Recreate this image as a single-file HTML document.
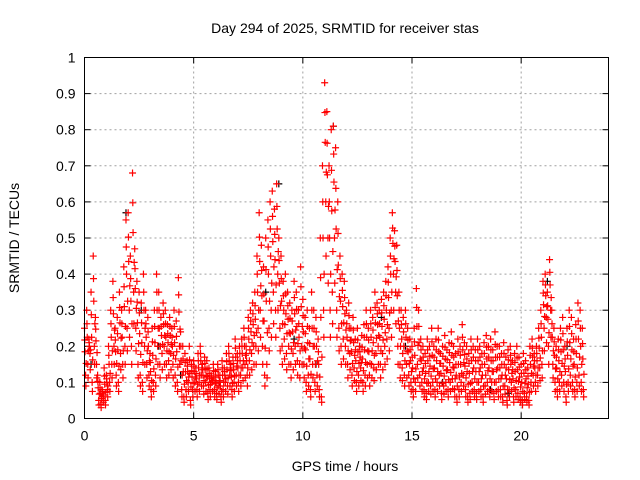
<!DOCTYPE html>
<html><head><meta charset="utf-8"><style>
html,body{margin:0;padding:0;background:#fff;}
svg{display:block;font-family:"Liberation Sans",sans-serif;}
</style></head><body>
<svg id="chart" width="640" height="480" viewBox="0 0 640 480" xmlns="http://www.w3.org/2000/svg">
<rect x="0" y="0" width="640" height="480" fill="#fff"/>
<g id="grid"></g>
<g id="ticks"></g>
<g id="black"></g>
<g id="red"></g>
<rect x="84.5" y="57.5" width="524" height="361" fill="none" stroke="#000" stroke-width="1"/>
<text x="345" y="33" font-size="14" text-anchor="middle">Day 294 of 2025, SRMTID for receiver stas</text>
<text x="345" y="471" font-size="14" text-anchor="middle">GPS time / hours</text>
<text transform="translate(19,238) rotate(-90)" font-size="14" text-anchor="middle">SRMTID / TECUs</text>
</svg>
<script>
const xTicks=[0,5,10,15,20];
const yTicks=[0,0.1,0.2,0.3,0.4,0.5,0.6,0.7,0.8,0.9,1];
const yTickLabels=["0","0.1","0.2","0.3","0.4","0.5","0.6","0.7","0.8","0.9","1"];
const tStart=0, tStep=0.1;
const redA=[0.25,0.3,0.22,0.35,0.45,0.28,0.12,0.1,0.08,0.14,
0.12,0.2,0.3,0.38,0.25,0.28,0.35,0.3,0.42,0.55,
0.57,0.45,0.68,0.47,0.38,0.35,0.32,0.4,0.3,0.28,
0.18,0.25,0.3,0.4,0.35,0.28,0.32,0.3,0.26,0.28,
0.25,0.3,0.27,0.39,0.24,0.2,0.18,0.16,0.2,0.15,
0.16,0.14,0.18,0.2,0.15,0.17,0.16,0.14,0.12,0.15,
0.13,0.15,0.12,0.16,0.14,0.18,0.2,0.15,0.17,0.22,
0.18,0.2,0.22,0.25,0.2,0.28,0.3,0.32,0.35,0.45,
0.57,0.48,0.42,0.5,0.55,0.6,0.63,0.58,0.65,0.5,
0.45,0.38,0.4,0.35,0.32,0.3,0.38,0.35,0.3,0.42,
0.33,0.28,0.3,0.25,0.35,0.3,0.28,0.22,0.5,0.7,
0.93,0.85,0.7,0.8,0.81,0.75,0.6,0.45,0.4,0.38,
0.3,0.32,0.25,0.28,0.22,0.25,0.2,0.23,0.26,0.3,
0.25,0.3,0.28,0.35,0.32,0.3,0.33,0.35,0.38,0.42,
0.5,0.57,0.52,0.48,0.35,0.3,0.28,0.3,0.25,0.22,
0.2,0.25,0.36,0.3,0.22,0.2,0.18,0.22,0.2,0.25,
0.2,0.22,0.25,0.18,0.2,0.23,0.19,0.21,0.24,0.2,
0.18,0.22,0.2,0.26,0.21,0.2,0.18,0.22,0.2,0.19,
0.22,0.2,0.18,0.21,0.23,0.2,0.22,0.19,0.24,0.2,
0.2,0.18,0.21,0.17,0.19,0.2,0.16,0.18,0.2,0.17,
0.15,0.18,0.16,0.14,0.2,0.22,0.18,0.2,0.25,0.3,
0.38,0.4,0.35,0.44,0.3,0.25,0.2,0.22,0.25,0.28,
0.2,0.25,0.3,0.28,0.22,0.26,0.32,0.3,0.25];
const redB=[0.12,0.15,0.18,0.1,0.2,0.15,0.05,0.04,0.06,0.05,
0.08,0.1,0.15,0.2,0.12,0.1,0.18,0.15,0.2,0.25,
0.3,0.2,0.35,0.25,0.15,0.12,0.1,0.2,0.15,0.12,
0.08,0.1,0.12,0.2,0.15,0.18,0.2,0.15,0.16,0.18,
0.15,0.12,0.1,0.2,0.08,0.06,0.08,0.1,0.05,0.08,
0.1,0.08,0.1,0.12,0.09,0.1,0.07,0.08,0.1,0.08,
0.07,0.09,0.06,0.08,0.1,0.09,0.12,0.08,0.1,0.12,
0.1,0.12,0.14,0.15,0.12,0.16,0.18,0.2,0.2,0.25,
0.3,0.2,0.12,0.15,0.25,0.3,0.35,0.3,0.4,0.25,
0.2,0.22,0.18,0.2,0.15,0.18,0.2,0.16,0.15,0.2,
0.15,0.1,0.12,0.08,0.15,0.1,0.12,0.08,0.06,0.3,
0.6,0.5,0.3,0.35,0.5,0.3,0.25,0.2,0.22,0.2,
0.15,0.18,0.12,0.14,0.1,0.12,0.14,0.1,0.12,0.15,
0.12,0.15,0.14,0.18,0.2,0.15,0.18,0.2,0.22,0.25,
0.3,0.4,0.35,0.2,0.15,0.14,0.12,0.15,0.12,0.1,
0.08,0.1,0.15,0.12,0.1,0.08,0.07,0.1,0.09,0.1,
0.08,0.1,0.12,0.07,0.09,0.1,0.08,0.1,0.11,0.08,
0.06,0.08,0.1,0.12,0.08,0.06,0.07,0.1,0.08,0.07,
0.1,0.08,0.06,0.09,0.1,0.08,0.1,0.07,0.1,0.08,
0.08,0.06,0.09,0.05,0.08,0.1,0.06,0.08,0.07,0.06,
0.05,0.07,0.06,0.05,0.1,0.12,0.1,0.12,0.14,0.15,
0.25,0.28,0.2,0.3,0.15,0.1,0.08,0.1,0.12,0.1,
0.06,0.1,0.12,0.1,0.08,0.1,0.12,0.1,0.08];
const blackT=[0.3,1.9,2.6,3.4,4.4,6.2,8.3,8.9,9.6,10.6,11.4,12.6,13.6,14.7,16.4,18.6,19.4,21.2,22.1];
const blackV=[0.15,0.57,0.3,0.2,0.12,0.1,0.35,0.65,0.22,0.15,0.81,0.2,0.28,0.2,0.1,0.08,0.07,0.38,0.2];

const X0=84.5,X1=608.5,Y0=418.5,Y1=57.5,XMAX=24;
const xs=t=>X0+(t/XMAX)*(X1-X0);
const ys=v=>Y0-(v/1)*(Y0-Y1);
const NS="http://www.w3.org/2000/svg";
function mk(tag,attrs,parent){const e=document.createElementNS(NS,tag);for(const k in attrs)e.setAttribute(k,attrs[k]);parent.appendChild(e);return e;}
const grid=document.getElementById('grid'),ticks=document.getElementById('ticks');
yTicks.forEach((v,i)=>{
  const y=ys(v);
  if(v>0&&v<1){const g=mk('line',{x1:X0,x2:X1,y1:y,y2:y,stroke:'#a0a0a0','stroke-dasharray':'2,3','stroke-width':1},grid);
  
  }
  mk('line',{x1:X0,x2:X0+6,y1:y,y2:y,stroke:'#000'},ticks);
  mk('line',{x1:X1,x2:X1-6,y1:y,y2:y,stroke:'#000'},ticks);
  const t=mk('text',{x:X0-9,y:y+5,'font-size':14,'text-anchor':'end'},ticks);
  
  
  t.textContent=yTickLabels[i];
});
xTicks.forEach(v=>{
  const x=xs(v);
  if(v>0){const g=mk('line',{x1:x,x2:x,y1:Y0,y2:Y1,stroke:'#a0a0a0','stroke-dasharray':'2,3','stroke-width':1},grid);
  
  }
  mk('line',{x1:x,x2:x,y1:Y0,y2:Y0-6,stroke:'#000'},ticks);
  mk('line',{x1:x,x2:x,y1:Y1,y2:Y1+6,stroke:'#000'},ticks);
  const t=mk('text',{x:x,y:Y0+22,'font-size':14,'text-anchor':'middle'},ticks);
  
  
  t.textContent=String(v);
});
function plus(parent,t,v,color,name){
  const x=xs(t),y=ys(v);
  const p=mk('path',{d:`M${x-3.5},${y}H${x+3.5}M${x},${y-3.5}V${y+3.5}`,stroke:color,'stroke-width':1.2,fill:'none'},parent);
  
  
}
const black=document.getElementById('black'),red=document.getElementById('red');
blackT.forEach((t,i)=>plus(black,t,blackV[i],'#000','black-point'));
redA.forEach((v,i)=>{
  const t=tStart+i*tStep;
  const b=redB[i];
  plus(red,t,v,'#ff0000','red-point');
  plus(red,t+0.05,b,'#ff0000','red-point');
  plus(red,t+0.025,(v+b)/2,'#ff0000','red-point');
  plus(red,t+0.075,(v+3*b)/4,'#ff0000','red-point');
  plus(red,t+0.0125,(3*v+b)/4,'#ff0000','red-point');
  plus(red,t+0.0625,b*0.75,'#ff0000','red-point');
});
</script>
</body></html>
